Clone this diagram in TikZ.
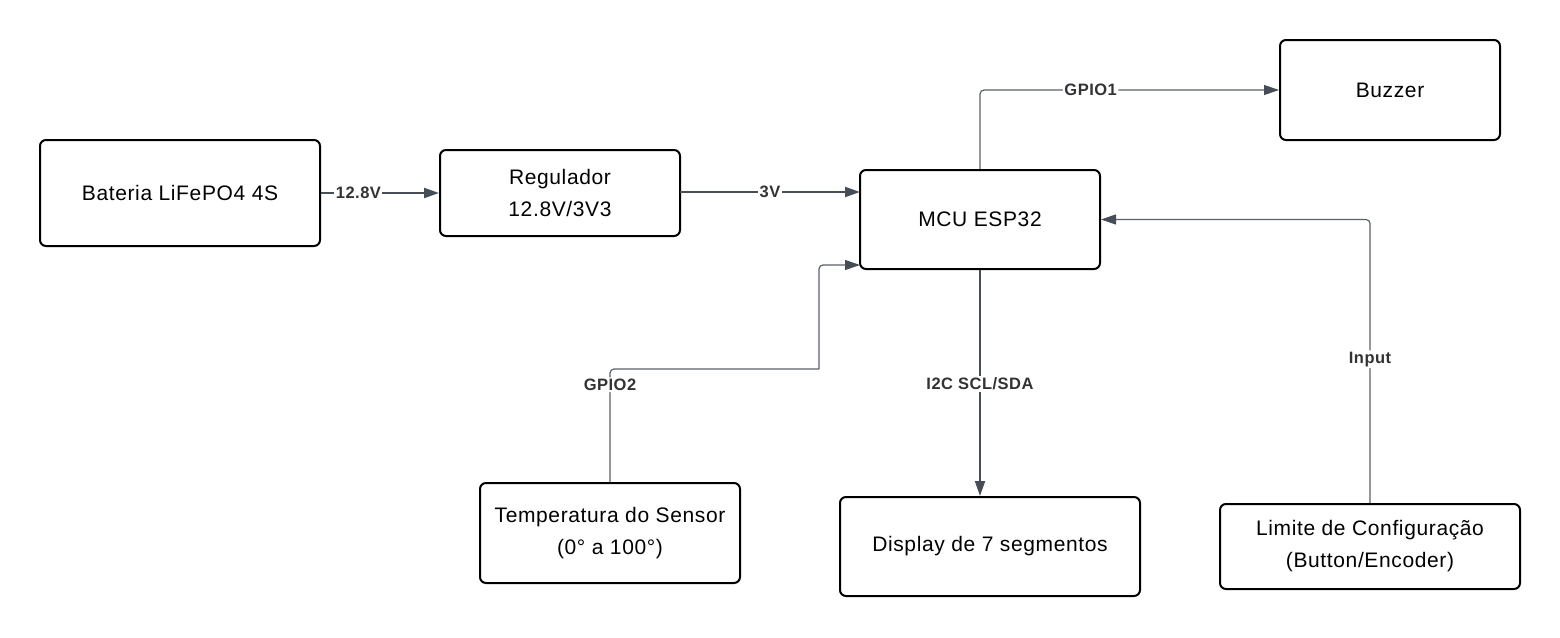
\documentclass[tikz,border=0pt]{standalone}
\usepackage{fontspec}
\setmainfont{Liberation Sans}[LetterSpace=3]
\usetikzlibrary{arrows.meta}
\definecolor{linecol}{HTML}{474D57}
\definecolor{thincol}{HTML}{5A606A}
\definecolor{labcol}{HTML}{333333}
\tikzset{
  block/.style={draw=black, line width=2pt, rounded corners=6pt, fill=white,
    align=center, inner sep=0pt, font=\fontsize{21}{32}\selectfont},
  conn/.style={draw=linecol, line width=2pt,
    -{Triangle[length=15pt,width=10pt]}},
  thinconn/.style={draw=thincol, line width=1.2pt, rounded corners=4pt,
    -{Triangle[length=15pt,width=10pt,color=linecol]}},
  plainconn/.style={draw=thincol, line width=1.2pt, rounded corners=4pt},
  lab/.style={fill=white, text=labcol, inner sep=1.5pt,
    font=\fontsize{16.5}{19}\selectfont\bfseries}
}
\begin{document}
\begin{tikzpicture}[x=1pt,y=-1pt]
\useasboundingbox (0,0) rectangle (1560,637);
\node[block, minimum width=280pt, minimum height=106pt] (bat) at (180,193) {Bateria LiFePO4 4S};
\node[block, minimum width=240pt, minimum height=86pt] (reg) at (560,193) {Regulador\\12.8V/3V3};
\node[block, minimum width=240pt, minimum height=99pt] (mcu) at (980,219.5) {MCU ESP32};
\node[block, minimum width=220pt, minimum height=100pt] (buz) at (1390,90) {Buzzer};
\node[block, minimum width=260pt, minimum height=100pt] (tmp) at (610,533) {Temperatura do Sensor\\(0° a 100°)};
\node[block, minimum width=300pt, minimum height=99pt] (dsp) at (990,546.5) {Display de 7 segmentos};
\node[block, minimum width=300pt, minimum height=85pt] (lim) at (1370,546.5) {Limite de Configuração\\(Button/Encoder)};
\coordinate (g2a) at (819,369);
\coordinate (g2in) at (860,265);
\coordinate (v3in) at (860,192);
\coordinate (v3out) at (680,192);
\draw[conn] (bat.east) -- node[lab, pos=0.317] (l1) {12.8V} (reg.west);
\draw[conn] (v3out) -- node[lab, pos=0.5] (l2) {3V} (v3in);
\draw[thinconn] (mcu.north) |- node[lab, pos=0.685] (l3) {GPIO1} (buz.west);
\draw[plainconn] (tmp.north) |- node[lab, pos=0.43] (l4) {GPIO2} (g2a);
\draw[thinconn] (g2a) |- (g2in);
\draw[conn] (mcu.south) -- node[lab, pos=0.504] (l5) {I2C SCL/SDA} (mcu.south |- dsp.north);
\draw[thinconn] (lim.north) |- node[lab, pos=0.2535] (l6) {Input} (mcu.east);
\end{tikzpicture}
\end{document}
